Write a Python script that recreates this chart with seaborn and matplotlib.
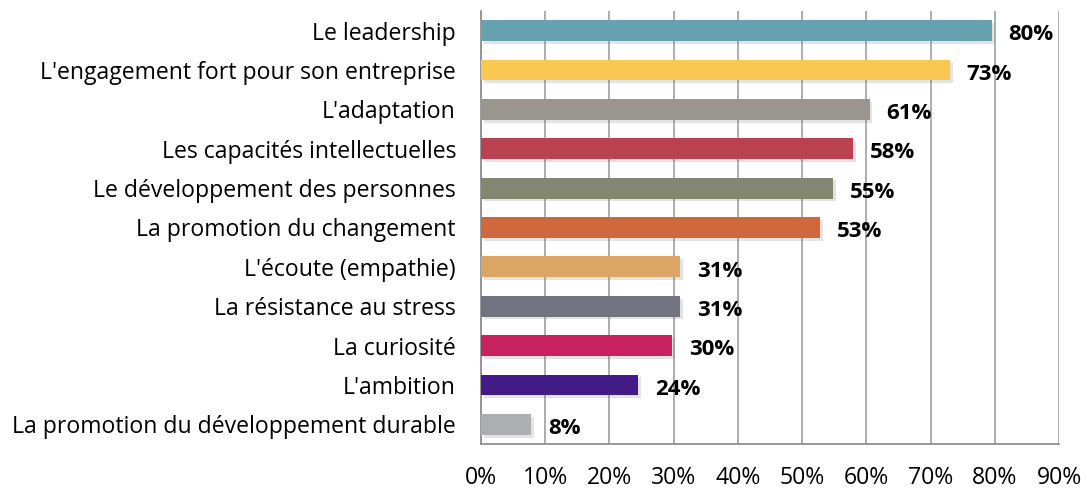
import matplotlib
matplotlib.use("Agg")
import matplotlib.pyplot as plt
import matplotlib.patheffects as pe
import seaborn as sns
import pandas as pd
from matplotlib.ticker import MultipleLocator, FuncFormatter

# donnees
categories = ["Le leadership", "L'engagement fort pour son entreprise", "L'adaptation",
              "Les capacités intellectuelles", "Le développement des personnes",
              "La promotion du changement", "L'écoute (empathie)", "La résistance au stress",
              "La curiosité", "L'ambition", "La promotion du développement durable"]
valeurs = [79.5, 73.0, 60.5, 58.0, 54.8, 52.8, 31.0, 31.0, 29.8, 24.5, 7.8]
etiquettes = ["80%", "73%", "61%", "58%", "55%", "53%", "31%", "31%", "30%", "24%", "8%"]
couleurs = ["#66A1B0", "#F9C851", "#9A958E", "#B94150", "#838772", "#D0683D",
            "#DBA566", "#717380", "#C8215F", "#421B87", "#ADAEB1"]

sns.set_style("white")
plt.rcParams['font.family'] = ['Open Sans', 'DejaVu Sans']
plt.rcParams['text.color'] = 'black'
plt.rcParams['xtick.color'] = 'black'
plt.rcParams['ytick.color'] = 'black'

df = pd.DataFrame({"cat": categories, "val": valeurs})

fig = plt.figure(figsize=(10.85, 4.91), dpi=100)
ax = fig.add_axes([481 / 1085, 1 - 444 / 491, (1059 - 481) / 1085, (444 - 11) / 491])

sns.barplot(data=df, x="val", y="cat", hue="cat", palette=couleurs, legend=False,
            orient="h", width=0.53, saturation=1, linewidth=0, ax=ax, zorder=3)

# petite ombre sous les barres
for p in ax.patches:
    p.set_path_effects([pe.SimplePatchShadow(offset=(2, -2), alpha=0.18, shadow_rgbFace="#666666"),
                        pe.Normal()])

for i, (v, t) in enumerate(zip(valeurs, etiquettes)):
    ax.annotate(t, xy=(v, i), xytext=(12, -3), textcoords="offset points",
                ha="left", va="center", fontsize=16, fontweight="bold", color="black")

ax.set_xlim(0, 90)
ax.set_ylim(len(categories) - 0.5, -0.5)
ax.xaxis.set_major_locator(MultipleLocator(10))
ax.xaxis.set_major_formatter(FuncFormatter(lambda x, pos: f"{int(round(x))}%"))
ax.grid(axis="x", color="#A0A0A0", linewidth=1.2, zorder=0)
ax.set_axisbelow(True)

# petites graduations entre les categories
ax.set_yticks(range(len(categories)))
ax.set_yticklabels(categories)
ax.set_yticks([i - 0.5 for i in range(len(categories) + 1)], minor=True)
ax.tick_params(axis="y", which="major", length=0, pad=18, labelsize=16.6, labelcolor="black")
ax.tick_params(axis="y", which="minor", length=5, color="#888888", width=1.2)
ax.tick_params(axis="x", which="major", length=5, color="#888888", width=1.2, labelsize=16.6,
               labelcolor="black", pad=11)

for s in ["top", "right"]:
    ax.spines[s].set_visible(False)
for s in ["left", "bottom"]:
    ax.spines[s].set_color("#888888")
    ax.spines[s].set_linewidth(1.2)

ax.set_xlabel("")
ax.set_ylabel("")

fig.savefig("out.png", dpi=100)
